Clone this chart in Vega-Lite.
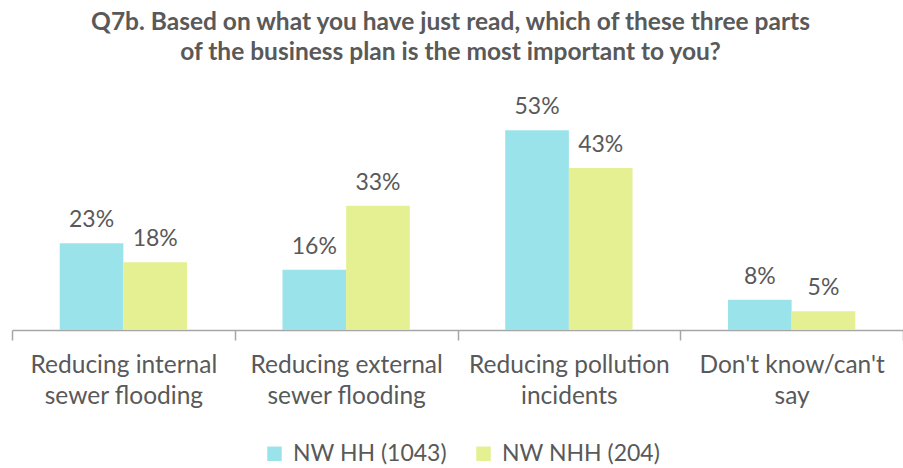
{
  "$schema": "https://vega.github.io/schema/vega-lite/v6.json",
  "autosize": {"type": "none"},
  "padding": {"left": 12, "top": 104, "right": 0, "bottom": 138},
  "width": 891,
  "height": 226,
  "background": "white",
  "config": {"view": {"stroke": null}},
  "title": {
    "text": ["Q7b. Based on what you have just read, which of these three parts", "of the business plan is the most important to you?"],
    "font": "Lato",
    "fontSize": 24.5,
    "fontWeight": "bold",
    "color": "#595959",
    "lineHeight": 30,
    "anchor": "middle",
    "dx": -7,
    "offset": 31
  },
  "data": {
    "values": [
      {"category": "Reducing internal sewer flooding", "group": "NW HH (1043)", "value": 0.23},
      {"category": "Reducing internal sewer flooding", "group": "NW NHH (204)", "value": 0.18},
      {"category": "Reducing external sewer flooding", "group": "NW HH (1043)", "value": 0.16},
      {"category": "Reducing external sewer flooding", "group": "NW NHH (204)", "value": 0.33},
      {"category": "Reducing pollution incidents", "group": "NW HH (1043)", "value": 0.53},
      {"category": "Reducing pollution incidents", "group": "NW NHH (204)", "value": 0.43},
      {"category": "Don't know/can't say", "group": "NW HH (1043)", "value": 0.08},
      {"category": "Don't know/can't say", "group": "NW NHH (204)", "value": 0.05}
    ]
  },
  "encoding": {
    "x": {
      "field": "category",
      "type": "nominal",
      "sort": null,
      "scale": {"paddingInner": 0, "paddingOuter": 0},
      "axis": {
        "title": null,
        "labelAngle": 0,
        "labelFont": "Lato",
        "labelFontSize": 24.5,
        "labelColor": "#595959",
        "labelLineHeight": 31,
        "labelPadding": 13,
        "labelBaseline": "top",
        "labelLimit": 0,
        "labelExpr": "datum.extra ? '' : datum.value == 'Reducing internal sewer flooding' ? ['Reducing internal', 'sewer flooding'] : datum.value == 'Reducing external sewer flooding' ? ['Reducing external', 'sewer flooding'] : datum.value == 'Reducing pollution incidents' ? ['Reducing pollution', 'incidents'] : ['Don\\'t know/can\\'t', 'say']",
        "domainColor": "#A6A6A6",
        "domainWidth": 1.5,
        "tickColor": "#A6A6A6",
        "tickWidth": 1.5,
        "tickSize": 10,
        "tickBand": "extent"
      }
    },
    "xOffset": {
      "field": "group",
      "type": "nominal",
      "scale": {"paddingInner": 0, "paddingOuter": 0.75}
    },
    "y": {
      "field": "value",
      "type": "quantitative",
      "scale": {"domain": [0, 0.6]},
      "axis": null
    }
  },
  "layer": [
    {
      "mark": {"type": "bar"},
      "encoding": {
        "color": {
          "field": "group",
          "type": "nominal",
          "scale": {"range": ["#9BE3EA", "#E5F093"]},
          "legend": {
            "title": null,
            "orient": "none",
            "direction": "horizontal",
            "legendX": 251,
            "legendY": 338,
            "symbolType": "square",
            "symbolSize": 210,
            "symbolStrokeWidth": 0,
            "labelFont": "Lato",
            "labelFontSize": 23,
            "labelColor": "#595959",
            "columnPadding": 25,
            "labelOffset": 7
          }
        }
      }
    },
    {
      "mark": {"type": "text", "font": "Lato", "fontSize": 23, "color": "#595959", "baseline": "alphabetic", "dy": -16},
      "encoding": {
        "text": {"field": "value", "type": "quantitative", "format": ".0%"}
      }
    }
  ]
}
